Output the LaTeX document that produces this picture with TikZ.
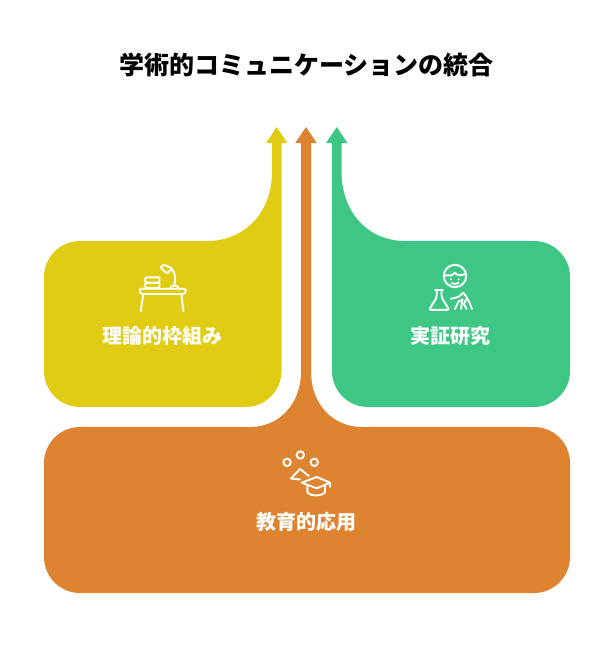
\documentclass[tikz,border=0pt]{standalone}
\usepackage{fontspec}
\newfontfamily\jpfont{Noto Sans CJK JP}
\usetikzlibrary{positioning}
\definecolor{theory}{HTML}{E1CC14}
\definecolor{practice}{HTML}{DE8431}
\definecolor{empirical}{HTML}{3EC684}
\begin{document}
\begin{tikzpicture}[x=1pt,y=-1pt]
\tikzstyle{heading}=[
  font=\jpfont\bfseries\fontsize{25}{30}\selectfont,
  text=black,
  inner sep=0pt
]
\tikzstyle{caption}=[
  font=\jpfont\bfseries\fontsize{20}{24}\selectfont,
  text=white,
  inner sep=0pt
]
\tikzstyle{icon}=[
  draw=white,
  line width=1.9pt,
  line cap=round,
  line join=round
]
\useasboundingbox (0,0) rectangle (612,672);

\node[heading] (title) at (306.5,65) {学術的コミュニケーションの統合};

% yellow block with its arrow
\fill[theory] (207,241)
  .. controls (245,241) and (272,212) .. (272,172)
  -- (272,143) -- (266,143) -- (276.7,127) -- (287.4,143) -- (281.5,143)
  [rounded corners=36pt] -- (281.5,407) -- (44,407) -- (44,241) [sharp corners] -- cycle;

% green block with its arrow
\fill[empirical] (405,241)
  .. controls (368,241) and (341.5,212) .. (341.5,172)
  -- (341.5,143) -- (347.5,143) -- (336.8,127) -- (326.1,143) -- (332,143)
  [rounded corners=36pt] -- (332,407) -- (570,407) -- (570,241) [sharp corners] -- cycle;

% orange block with its arrow
\fill[practice] (250,427)
  .. controls (280,427) and (301,403) .. (301,372)
  -- (301,143) -- (295.3,143) -- (306,127) -- (316.7,143) -- (311,143)
  -- (311,372) .. controls (311,403) and (332,427) .. (362,427)
  [rounded corners=36pt] -- (570,427) -- (570,593) -- (44,593) -- (44,427) [sharp corners] -- cycle;

\node[caption] (theorylabel) at (162.5,336) {理論的枠組み};
\node[caption] (empiricallabel) at (450.5,336) {実証研究};
\node[caption] (practicelabel) at (306,522) {教育的応用};

% desk
\draw[icon,rounded corners=1.5pt] (139.5,288.7) -- (186,288.7) -- (185,294) -- (140.5,294) -- cycle;
\draw[icon] (143.3,294) -- (140.8,311);
\draw[icon] (181.3,294) -- (183.5,311);
\draw[icon,rounded corners=2pt] (159.5,277.3) -- (145,277.3) -- (145,282.7) -- (159.5,282.7) -- (159.5,277.3);
\draw[icon,rounded corners=2pt] (159.5,282.7) -- (145,282.7) -- (145,288) -- (159.5,288) -- (159.5,282.7);
\draw[icon] (170.3,288) .. controls (171,285) and (177,284.5) .. (178.7,288);
\draw[icon] (174.3,285.3) .. controls (175.8,279) and (175.5,274) .. (172,268.7);
\draw[icon,rounded corners=1.5pt] (160,267) -- (164.3,264.7) -- (172.5,268.5) -- (167,273.7) -- cycle;

% scientist
\draw[icon] (455,276) circle[radius=11.2];
\draw[icon] (444.3,275.3) -- (451.7,275.3) -- (455,272.7) .. controls (457,275.5) and (460,276) .. (465,274);
\fill[white] (451,279.3) circle[radius=1.1];
\fill[white] (458.6,279.3) circle[radius=1.1];
\draw[icon] (451.7,283) .. controls (453,284.2) and (457,284.2) .. (458.5,283);
\draw[icon] (435,289.7) -- (443,289.7);
\draw[icon,rounded corners=2pt] (436.7,289.7) -- (436.7,297.5) -- (429,309.8) -- (449.3,309.8) -- (441.5,297.5) -- (441.5,289.7);
\draw[icon] (451,298.7) -- (458.3,297) -- (463.3,292.7) .. controls (467,297) and (470,303) .. (472,309);
\draw[icon] (455,309) -- (458.5,301.5) -- (462.5,299.5) -- (461,309);
\draw[icon] (466,299.5) -- (464,304) -- (466.5,309);

% graduate
\draw[icon] (287,462.3) circle[radius=3.7];
\draw[icon] (300.3,455) circle[radius=3.7];
\draw[icon] (314.3,462.3) circle[radius=3.7];
\draw[icon] (308.8,476) -- (300,469) -- (291,478.5) -- (300,479.5);
\draw[icon] (301.7,482.7) -- (316.7,477) -- (330,482.7) -- (316.7,488.3) -- cycle;
\draw[icon] (307.3,485.5) -- (307.3,492) .. controls (310,496.5) and (322,496.5) .. (325,492) -- (325,485.5);
\draw[icon] (330,482.7) -- (330,487);
\end{tikzpicture}
\end{document}
